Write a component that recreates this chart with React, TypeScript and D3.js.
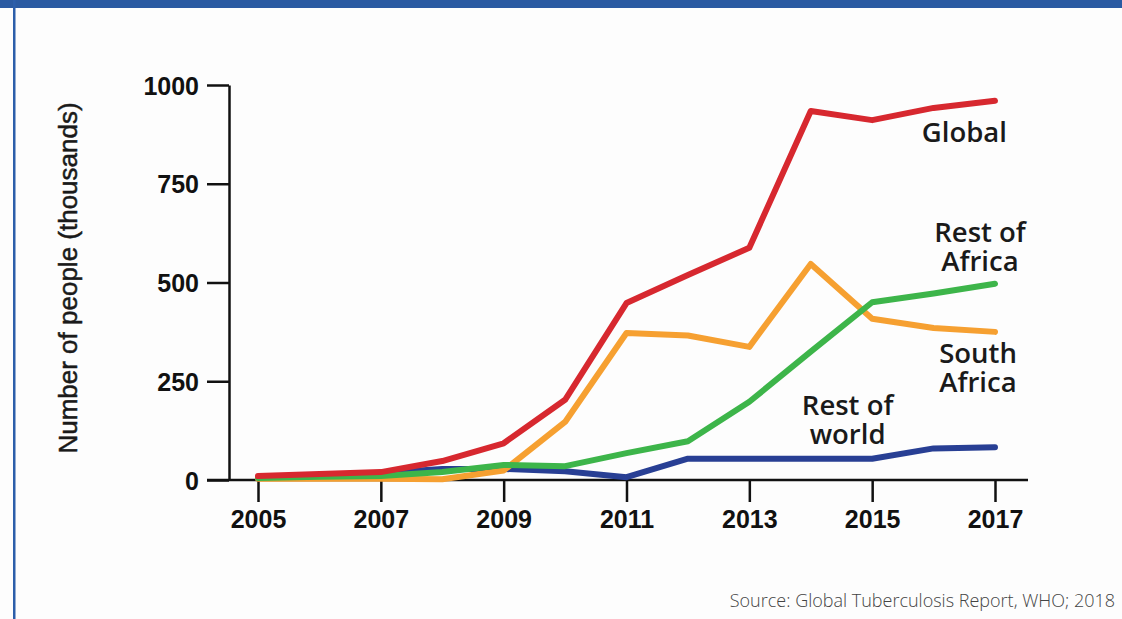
import React, { useEffect, useRef } from 'react';
import * as d3 from 'd3';

const years = [2005, 2006, 2007, 2008, 2009, 2010, 2011, 2012, 2013, 2014, 2015, 2016, 2017];
const global = [10, 15, 20, 48, 93, 203, 448, 519, 588, 934, 911, 942, 960];
const southAfrica = [3, 3, 3, 2, 24, 147, 372, 366, 337, 547, 408, 385, 375];
const restOfAfrica = [5, 8, 10, 20, 38, 35, 68, 98, 198, 325, 450, 472, 497];
const restOfWorld = [5, 10, 18, 28, 28, 22, 7, 54, 54, 54, 54, 80, 83];

const yTicks = [0, 250, 500, 750, 1000];
const xTicks = [2005, 2007, 2009, 2011, 2013, 2015, 2017];

const series = [
  { name: 'Rest of world', values: restOfWorld, color: '#283f94' },
  { name: 'South Africa', values: southAfrica, color: '#f6a031' },
  { name: 'Rest of Africa', values: restOfAfrica, color: '#3db54a' },
  { name: 'Global', values: global, color: '#d7282f' },
];

// label lines, anchored on a year/value position
const labels = [
  { lines: ['Global'], year: 2017, value: 960, dx: 12, dy: 41, anchor: 'end' },
  { lines: ['Rest of', 'Africa'], year: 2017, value: 497, dx: -15, dy: -42, anchor: 'middle' },
  { lines: ['South', 'Africa'], year: 2017, value: 375, dx: -17, dy: 31, anchor: 'middle' },
  { lines: ['Rest of', 'world'], year: 2014.6, value: 54, dx: 0, dy: -44, anchor: 'middle' },
];

export default function App() {
  const svgRef = useRef<SVGSVGElement>(null);

  useEffect(() => {
    if (!svgRef.current) return;
    const svg = d3.select(svgRef.current);
    svg.selectAll('*').remove();

    const W = 1122;
    const H = 619;

    svg.append('rect').attr('width', W).attr('height', H).attr('fill', '#fdfdfd');
    // frame
    svg.append('rect').attr('x', 0).attr('y', 0).attr('width', W).attr('height', 8).attr('fill', '#2a5aa2');
    svg.append('rect').attr('x', 13).attr('y', 0).attr('width', 2.5).attr('height', H).attr('fill', '#2c5eaa');

    const x = d3.scaleLinear().domain([2005, 2017]).range([258, 995]);
    const y = d3.scaleLinear().domain([0, 1000]).range([480, 85]);
    const tickLen = 22;

    // Y axis
    const yAxis = d3.axisLeft(y).tickValues(yTicks).tickFormat(d3.format('d')).tickSize(tickLen).tickSizeOuter(0).tickPadding(8);
    const gy = svg.append('g').attr('transform', `translate(229,0)`).call(yAxis);
    gy.select('.domain').attr('stroke', '#111').attr('stroke-width', 2.5);
    gy.selectAll('.tick line').attr('stroke', '#111').attr('stroke-width', 2.5);
    gy.selectAll('.tick text')
      .attr('fill', '#111')
      .attr('font-family', '"Liberation Sans", Arial, sans-serif')
      .attr('font-weight', 'bold')
      .attr('font-size', 25)
      .attr('dy', '0.36em');

    // X axis
    const xAxis = d3.axisBottom(x).tickValues(xTicks).tickFormat(d3.format('d')).tickSize(tickLen).tickSizeOuter(0).tickPadding(8);
    const gx = svg.append('g').attr('transform', `translate(0,${y(0)})`).call(xAxis);
    gx.select('.domain').remove();
    gx.append('line')
      .attr('x1', 229 - tickLen)
      .attr('x2', x(2017) + 33)
      .attr('stroke', '#111')
      .attr('stroke-width', 2.5);
    gx.selectAll('.tick line').attr('stroke', '#111').attr('stroke-width', 2.5);
    gx.selectAll('.tick text')
      .attr('fill', '#111')
      .attr('font-family', '"Liberation Sans", Arial, sans-serif')
      .attr('font-weight', 'bold')
      .attr('font-size', 25);

    // Y title
    svg.append('text')
      .attr('transform', `translate(77,278) rotate(-90)`)
      .attr('text-anchor', 'middle')
      .attr('font-family', '"Liberation Sans", Arial, sans-serif')
      .attr('font-size', 26)
      .attr('fill', '#1a1a1a')
      .attr('stroke', '#1a1a1a')
      .attr('stroke-width', 0.5)
      .text('Number of people (thousands)');

    // Lines
    const line = d3.line<number>()
      .x((_, i) => x(years[i]))
      .y(d => y(d));

    series.forEach(s => {
      svg.append('path')
        .datum(s.values)
        .attr('fill', 'none')
        .attr('stroke', s.color)
        .attr('stroke-width', 6)
        .attr('stroke-linejoin', 'round')
        .attr('stroke-linecap', 'round')
        .attr('d', line);
    });

    // Series labels
    labels.forEach(l => {
      l.lines.forEach((txt, i) => {
        svg.append('text')
          .attr('text-anchor', l.anchor)
          .attr('font-family', '"Open Sans", "Noto Sans", sans-serif')
          .attr('font-weight', 600)
          .attr('font-size', 27.5)
          .attr('fill', '#1a1a1a')
          .attr('x', x(l.year) + l.dx)
          .attr('y', y(l.value) + l.dy + i * 29)
          .text(txt);
      });
    });

    // Source
    svg.append('text')
      .attr('x', 1115)
      .attr('y', 607)
      .attr('text-anchor', 'end')
      .attr('font-family', '"Open Sans", "Noto Sans", sans-serif')
      .attr('font-weight', 300)
      .attr('font-size', 18)
      .attr('fill', '#444')
      .text('Source: Global Tuberculosis Report, WHO; 2018');
  }, []);

  return (
    <svg
      ref={svgRef}
      width={1122}
      height={619}
      viewBox="0 0 1122 619"
      style={{ position: 'absolute', left: 0, top: 0, display: 'block' }}
    />
  );
}
